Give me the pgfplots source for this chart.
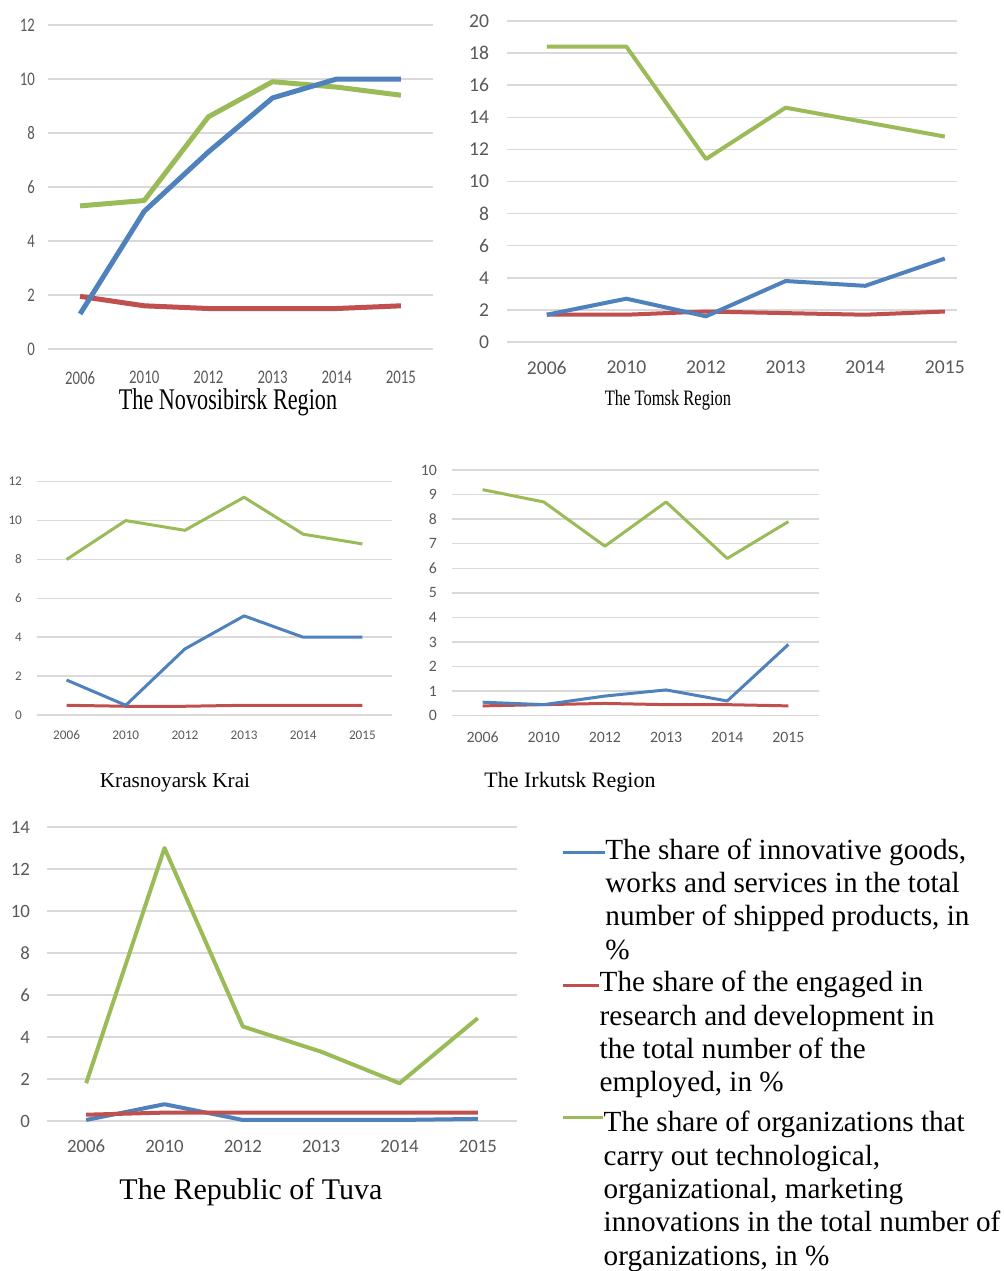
\documentclass[border=0pt]{standalone}
\usepackage{pgfplots}
\pgfplotsset{compat=1.18}
\usepackage{fontspec}
\setmainfont{Liberation Serif}
\newfontfamily\tickfont{Carlito}
\definecolor{cblue}{HTML}{4F81BD}
\definecolor{cred}{HTML}{C0504D}
\definecolor{cgreen}{HTML}{9BBB59}
\definecolor{cgrid}{HTML}{D9D9D9}
\definecolor{ctick}{HTML}{595959}
\pgfplotsset{
  region/.style={
    scale only axis, anchor=south west, clip=false,
    xmin=-0.5, xmax=5.5, ymin=0,
    xtick={0,...,5}, xticklabels={2006,2010,2012,2013,2014,2015},
    ymajorgrids, grid style={cgrid, line width=0.75pt},
    axis line style={draw=none}, tick style={draw=none},
    /pgf/number format/assume math mode=true,
    ticklabel style={text=ctick},
  },
  ser/.style={no marks, line join=round, line width=#1},
}
\begin{document}
\begin{tikzpicture}
\path[use as bounding box] (0,0) rectangle (502pt,-635.5pt);

% Novosibirsk
\begin{axis}[region, at={(24pt,-174.5pt)}, width=192.5pt, height=162pt,
  ymax=12, ytick={0,2,...,12},
  ticklabel style={font=\tickfont\fontsize{7.4}{8}\selectfont, yscale=1.3},
  xticklabel style={yshift=-5pt}, yticklabel style={xshift=-3pt}]
\addplot[ser=2.5pt, cred] coordinates {(0,1.95) (1,1.6) (2,1.5) (3,1.5) (4,1.5) (5,1.6)};
\addplot[ser=2.5pt, cgreen] coordinates {(0,5.3) (1,5.5) (2,8.6) (3,9.9) (4,9.7) (5,9.4)};
\addplot[ser=2.5pt, cblue] coordinates {(0,1.3) (1,5.1) (2,7.3) (3,9.3) (4,10.0) (5,10.0)};
\end{axis}
\node[font=\fontsize{15}{18}\selectfont, xscale=0.74, inner sep=0] at (114pt,-201pt) {The Novosibirsk Region};

% Tomsk
\begin{axis}[region, at={(253.5pt,-171pt)}, width=225pt, height=160.5pt,
  xmax=5.153, ymax=20, ytick={0,2,...,20},
  ticklabel style={font=\tickfont\fontsize{9.8}{11}\selectfont},
  xticklabel style={yshift=-6pt}, yticklabel style={xshift=-5.5pt}]
\addplot[ser=2pt, cred] coordinates {(0,1.7) (1,1.7) (2,1.9) (3,1.8) (4,1.7) (5,1.9)};
\addplot[ser=2pt, cblue] coordinates {(0,1.7) (1,2.7) (2,1.6) (3,3.8) (4,3.5) (5,5.2)};
\addplot[ser=2pt, cgreen] coordinates {(0,18.4) (1,18.4) (2,11.4) (3,14.6) (4,13.7) (5,12.8)};
\end{axis}
\node[font=\fontsize{11}{13}\selectfont, xscale=0.75, inner sep=0] at (334pt,-200pt) {The Tomsk Region};

% Krasnoyarsk
\begin{axis}[region, at={(18.5pt,-357.5pt)}, width=177.5pt, height=116.65pt,
  ymax=12, ytick={0,2,...,12},
  ticklabel style={font=\tickfont\fontsize{6.6}{8}\selectfont},
  xticklabel style={yshift=-4.5pt}, yticklabel style={xshift=-4pt}]
\addplot[ser=1.5pt, cred] coordinates {(0,0.5) (1,0.45) (2,0.45) (3,0.5) (4,0.5) (5,0.5)};
\addplot[ser=1.5pt, cblue] coordinates {(0,1.8) (1,0.5) (2,3.4) (3,5.1) (4,4.0) (5,4.0)};
\addplot[ser=1.5pt, cgreen] coordinates {(0,8.0) (1,10.0) (2,9.5) (3,11.2) (4,9.3) (5,8.8)};
\end{axis}
\node[font=\fontsize{10.6}{13}\selectfont, inner sep=0] at (87.5pt,-391pt) {Krasnoyarsk Krai};

% Irkutsk
\begin{axis}[region, at={(226pt,-357.85pt)}, width=183.5pt, height=122.85pt,
  ymax=10, ytick={0,1,...,10},
  ticklabel style={font=\tickfont\fontsize{7.9}{9}\selectfont},
  xticklabel style={yshift=-4.5pt}, yticklabel style={xshift=-4pt}]
\addplot[ser=1.5pt, cred] coordinates {(0,0.4) (1,0.45) (2,0.5) (3,0.45) (4,0.45) (5,0.4)};
\addplot[ser=1.5pt, cblue] coordinates {(0,0.55) (1,0.45) (2,0.8) (3,1.05) (4,0.6) (5,2.9)};
\addplot[ser=1.5pt, cgreen] coordinates {(0,9.2) (1,8.7) (2,6.9) (3,8.7) (4,6.4) (5,7.9)};
\end{axis}
\node[font=\fontsize{11}{13}\selectfont, inner sep=0] at (285pt,-391pt) {The Irkutsk Region};

% Tuva
\begin{axis}[region, at={(23.5pt,-560.5pt)}, width=235pt, height=147pt,
  ymax=14, ytick={0,2,...,14},
  ticklabel style={font=\tickfont\fontsize{9.4}{11}\selectfont},
  xticklabel style={yshift=-6pt}, yticklabel style={xshift=-5pt}]
\addplot[ser=2pt, cblue] coordinates {(0,0.05) (1,0.8) (2,0.05) (3,0.05) (4,0.05) (5,0.1)};
\addplot[ser=2pt, cred] coordinates {(0,0.3) (1,0.4) (2,0.4) (3,0.4) (4,0.4) (5,0.4)};
\addplot[ser=2pt, cgreen] coordinates {(0,1.8) (1,13.0) (2,4.5) (3,3.3) (4,1.8) (5,4.9)};
\end{axis}
\node[font=\fontsize{15}{18}\selectfont, inner sep=0] at (125.5pt,-596pt) {The Republic of Tuva};

% Legend
\draw[cblue, line width=1.5pt] (281.35pt,-426.15pt) -- (302.5pt,-426.15pt);
\draw[cred, line width=1.5pt] (281.35pt,-492.85pt) -- (299.65pt,-492.85pt);
\draw[cgreen, line width=1.5pt] (281.35pt,-558.85pt) -- (301.65pt,-558.85pt);
\begin{scope}[every node/.style={anchor=base west, inner sep=0, font=\fontsize{14.6}{16.67}\selectfont}]
\node at (302.5pt,-429.5pt) {The share of innovative goods,};
\node at (302.5pt,-446.17pt) {works and services in the total};
\node at (302.5pt,-462.83pt) {number of shipped products, in};
\node at (302.5pt,-479.5pt) {\%};
\node at (299.65pt,-495.85pt) {The share of the engaged in};
\node at (299.65pt,-512.5pt) {research and development in};
\node at (299.65pt,-529.2pt) {the total number of the};
\node at (299.65pt,-545.85pt) {employed, in \%};
\node at (301.65pt,-565.85pt) {The share of organizations that};
\node at (301.65pt,-582.5pt) {carry out technological,};
\node at (301.65pt,-599.2pt) {organizational, marketing};
\node at (301.65pt,-615.85pt) {innovations in the total number of};
\node at (301.65pt,-632.5pt) {organizations, in \%};
\end{scope}
\end{tikzpicture}
\end{document}
